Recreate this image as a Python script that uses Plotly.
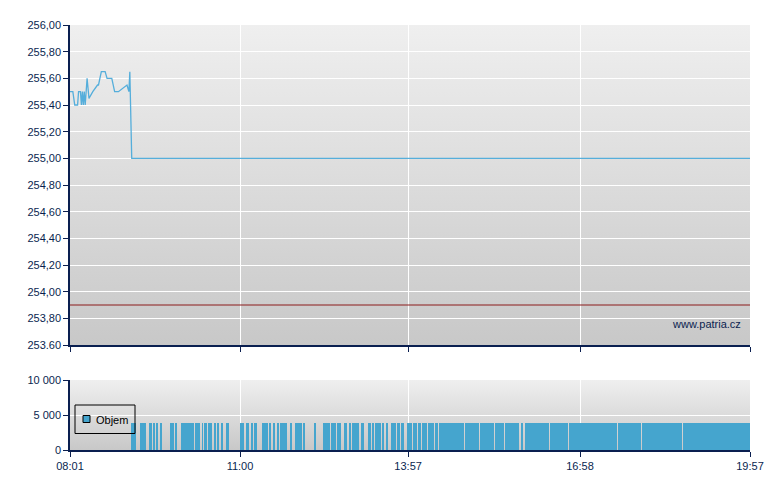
import base64
import plotly.graph_objects as go

# ---- data (times in minutes since midnight) ----
price_time = [481, 484, 486, 489, 490, 492, 493, 494, 495, 496, 497, 499, 501, 505,
              510, 511, 514, 518, 520, 525, 528, 532, 541, 543, 544, 546, 1197]
price_value = [255.50, 255.50, 255.40, 255.40, 255.50, 255.50, 255.40, 255.50, 255.40,
               255.50, 255.40, 255.60, 255.45, 255.50, 255.55, 255.55, 255.65, 255.65,
               255.60, 255.60, 255.50, 255.50, 255.55, 255.50, 255.65, 255.00, 255.00]
prev_close = 253.90

vol_start = [545, 549, 555, 557, 559, 564, 569, 572, 576, 586, 592, 598, 605, 607, 610, 613,
             620, 623, 627, 629, 633, 636, 641, 646, 660, 667, 672, 675, 683, 688, 691, 695,
             700, 703, 705, 707, 713, 718, 720, 727, 738, 748, 750, 752, 756, 758, 762, 769,
             775, 778, 781, 784, 787, 795, 799, 802, 809, 814, 820, 823, 826, 829, 836, 840,
             842, 847, 852, 858, 865, 870, 889, 897, 899, 913, 915, 926, 928, 939, 956, 960,
             986, 1006, 1058, 1083, 1126]
vol_end = [548, 550, 556, 558, 560, 567, 570, 573, 577, 591, 593, 604, 606, 609, 611, 618,
           621, 625, 628, 631, 634, 638, 642, 648, 664, 669, 673, 678, 687, 690, 693, 696,
           701, 704, 706, 709, 714, 719, 725, 728, 740, 749, 751, 755, 757, 761, 766, 773,
           777, 779, 783, 785, 791, 798, 801, 808, 812, 815, 822, 824, 828, 833, 839, 841,
           846, 851, 857, 864, 869, 888, 896, 898, 912, 914, 925, 927, 938, 954, 958, 985,
           1005, 1057, 1082, 1125, 1197]
vol_value = [3900] * len(vol_start)

time_ticks = [481, 660, 837, 1018, 1197]
time_labels = ["08:01", "11:00", "13:57", "16:58", "19:57"]
price_ticks = [253.6, 253.8, 254.0, 254.2, 254.4, 254.6, 254.8, 255.0, 255.2, 255.4,
               255.6, 255.8, 256.0]
price_labels = ["253.60", "253,80", "254,00", "254,20", "254,40", "254,60", "254,80",
                "255,00", "255,20", "255,40", "255,60", "255,80", "256,00"]
vol_ticks = [0, 5000, 10000]
vol_labels = ["0", "5 000", "10 000"]

NAVY = "#0a1f50"
LINE_BLUE = "#55aedb"
BAR_BLUE = "#45a5ce"
FONT = "Liberation Sans, Arial, sans-serif"

fig = go.Figure()

fig.add_trace(go.Scatter(
    x=[time_ticks[0], time_ticks[-1]], y=[prev_close, prev_close],
    mode="lines", line=dict(color="#8b1a1a", width=1),
    xaxis="x", yaxis="y", showlegend=False, hoverinfo="skip"))

fig.add_trace(go.Scatter(
    x=price_time, y=price_value, mode="lines",
    line=dict(color=LINE_BLUE, width=1.3, shape="linear"),
    xaxis="x", yaxis="y", showlegend=False))

centers = [(s + e) / 2 for s, e in zip(vol_start, vol_end)]
widths = [e - s for s, e in zip(vol_start, vol_end)]
fig.add_trace(go.Bar(
    x=centers, y=vol_value, width=widths, name="Objem",
    marker=dict(color=BAR_BLUE, line=dict(width=0)),
    xaxis="x2", yaxis="y2", showlegend=False))

# gradient backgrounds
svg = ('<svg xmlns="http://www.w3.org/2000/svg" width="10" height="100" '
       'viewBox="0 0 10 100" preserveAspectRatio="none">'
       '<defs><linearGradient id="g" x1="0" y1="0" x2="0" y2="1">'
       '<stop offset="0" stop-color="#efefef"/><stop offset="1" stop-color="#c8c8c8"/>'
       '</linearGradient></defs><rect width="10" height="100" fill="url(#g)"/></svg>')
src = "data:image/svg+xml;base64," + base64.b64encode(svg.encode()).decode()

top_dom = [105 / 425, 1.0]
bot_dom = [0.0, 70 / 425]
images = []
for dom in (top_dom, bot_dom):
    images.append(dict(source=src, xref="paper", yref="paper", x=0, y=dom[1],
                       sizex=1, sizey=dom[1] - dom[0], xanchor="left", yanchor="top",
                       sizing="stretch", layer="below"))

axis_common = dict(showline=True, linecolor=NAVY, linewidth=1.5, ticks="outside",
                   ticklen=5, tickcolor=NAVY, tickwidth=1, gridcolor="#ffffff",
                   gridwidth=1, zeroline=False,
                   tickfont=dict(family=FONT, size=11, color=NAVY))

# custom legend box (paper coordinates)
shapes = [
    dict(type="rect", xref="paper", yref="paper", x0=5 / 680, x1=65 / 680,
         y0=16.5 / 425, y1=45 / 425, line=dict(color="#000000", width=1),
         fillcolor="rgba(0,0,0,0)"),
    dict(type="rect", xref="paper", yref="paper", x0=13 / 680, x1=20 / 680,
         y0=27.5 / 425, y1=34.5 / 425, line=dict(color="#000000", width=1),
         fillcolor=BAR_BLUE),
]

fig.update_layout(
    width=772, height=482,
    margin=dict(l=62, r=30, t=17, b=40),
    paper_bgcolor="#ffffff", plot_bgcolor="rgba(0,0,0,0)",
    images=images,
    shapes=shapes,
    font=dict(family=FONT, size=11, color=NAVY),
    bargap=0,
    showlegend=False,
    xaxis=dict(domain=[0, 1], range=[time_ticks[0], time_ticks[-1]], anchor="y",
               tickvals=time_ticks, ticktext=[""] * len(time_ticks), showgrid=True,
               **axis_common),
    yaxis=dict(domain=top_dom, range=[price_ticks[0], price_ticks[-1]], anchor="x",
               tickvals=price_ticks, ticktext=price_labels, showgrid=True, **axis_common),
    xaxis2=dict(domain=[0, 1], range=[time_ticks[0], time_ticks[-1]], anchor="y2",
                tickvals=time_ticks, ticktext=time_labels, showgrid=True, **axis_common),
    yaxis2=dict(domain=bot_dom, range=[vol_ticks[0], vol_ticks[-1]], anchor="x2",
                tickvals=vol_ticks, ticktext=vol_labels, showgrid=True, **axis_common),
    annotations=[
        dict(text="www.patria.cz", xref="paper", yref="paper",
             x=673 / 680, y=126 / 425, xanchor="right", yanchor="middle",
             showarrow=False, font=dict(family=FONT, size=11, color=NAVY)),
        dict(text="Objem", xref="paper", yref="paper",
             x=24 / 680, y=30 / 425, xanchor="left", yanchor="middle",
             showarrow=False, font=dict(family=FONT, size=11, color="#000000")),
    ],
    hovermode=False,
)

fig.write_html("out.html")
